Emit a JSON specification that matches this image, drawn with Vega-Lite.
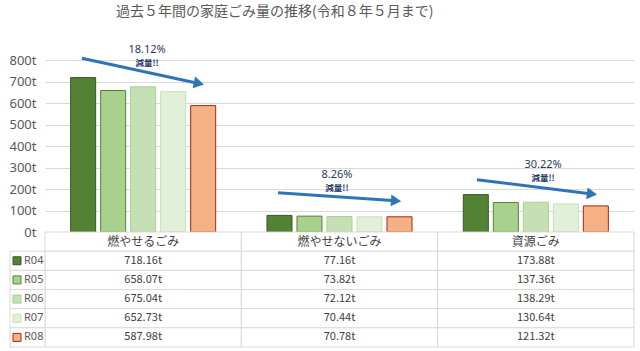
{
  "$schema": "https://vega.github.io/schema/vega-lite/v6.json",
  "background": "white",
  "padding": {"left": 8, "top": 5, "right": 5, "bottom": 4},
  "bounds": "flush",
  "title": {
    "text": "過去５年間の家庭ごみ量の推移(令和８年５月まで)",
    "anchor": "start",
    "dx": 107,
    "offset": 25,
    "fontSize": 14,
    "fontWeight": "normal",
    "color": "#595959",
    "font": "Noto Sans CJK JP"
  },
  "config": {
    "view": {"stroke": null},
    "font": "Noto Sans CJK JP",
    "axisY": {
      "tickCount": 8,
      "labelOverlap": false,
      "labelFont": "Noto Sans",
      "labelFontSize": 13,
      "labelColor": "#595959",
      "labelPadding": 9,
      "ticks": false,
      "domain": false,
      "gridColor": "#D9D9D9",
      "gridWidth": 1
    }
  },
  "datasets": {
    "amounts": [
      {"cat": "燃やせるごみ", "series": "R04", "value": 718.16},
      {"cat": "燃やせるごみ", "series": "R05", "value": 658.07},
      {"cat": "燃やせるごみ", "series": "R06", "value": 675.04},
      {"cat": "燃やせるごみ", "series": "R07", "value": 652.73},
      {"cat": "燃やせるごみ", "series": "R08", "value": 587.98},
      {"cat": "燃やせないごみ", "series": "R04", "value": 77.16},
      {"cat": "燃やせないごみ", "series": "R05", "value": 73.82},
      {"cat": "燃やせないごみ", "series": "R06", "value": 72.12},
      {"cat": "燃やせないごみ", "series": "R07", "value": 70.44},
      {"cat": "燃やせないごみ", "series": "R08", "value": 70.78},
      {"cat": "資源ごみ", "series": "R04", "value": 173.88},
      {"cat": "資源ごみ", "series": "R05", "value": 137.36},
      {"cat": "資源ごみ", "series": "R06", "value": 138.29},
      {"cat": "資源ごみ", "series": "R07", "value": 130.64},
      {"cat": "資源ごみ", "series": "R08", "value": 121.32}
    ],
    "headers": [
      {"cat": "燃やせるごみ", "series": "hdr"},
      {"cat": "燃やせないごみ", "series": "hdr"},
      {"cat": "資源ごみ", "series": "hdr"}
    ],
    "seriesList": [
      {"series": "R04"},
      {"series": "R05"},
      {"series": "R06"},
      {"series": "R07"},
      {"series": "R08"}
    ],
    "arrows": [
      {"x1": 0.188, "y1": 808, "x2": 0.784, "y2": 691, "ang": 12},
      {"x1": 1.187, "y1": 182, "x2": 1.788, "y2": 145, "ang": 4},
      {"x1": 2.2, "y1": 243, "x2": 2.786, "y2": 177, "ang": 7}
    ],
    "notes": [
      {"x": 0.52, "y": 845, "pct": "18.12%", "msg": "減量!!"},
      {"x": 1.487, "y": 266, "pct": "8.26%", "msg": "減量!!"},
      {"x": 2.537, "y": 313, "pct": "30.22%", "msg": "減量!!"}
    ]
  },
  "spacing": 0,
  "vconcat": [
    {
      "width": 589,
      "height": 172,
      "resolve": {"scale": {"x": "independent"}},
      "layer": [
        {
          "data": {"name": "amounts"},
          "mark": {"type": "bar", "strokeWidth": 1},
          "encoding": {
            "x": {
              "field": "cat", "type": "nominal",
              "scale": {"domain": ["燃やせるごみ", "燃やせないごみ", "資源ごみ"], "paddingInner": 0, "paddingOuter": 0},
              "axis": null
            },
            "xOffset": {
              "field": "series", "type": "nominal",
              "scale": {"domain": ["R04", "R05", "R06", "R07", "R08"], "paddingInner": 0.1667, "paddingOuter": 0.855}
            },
            "y": {
              "field": "value", "type": "quantitative", "title": null,
              "scale": {"domain": [0, 800], "nice": false},
              "axis": {"labelExpr": "datum.value + 't'", "grid": true, "tickCount": 8, "labelOverlap": false}
            },
            "fill": {
              "field": "series", "type": "nominal", "legend": null,
              "scale": {"domain": ["R04", "R05", "R06", "R07", "R08"], "range": ["#548235", "#A9D18E", "#C5E0B4", "#E2F0D9", "#F4B183"]}
            },
            "stroke": {
              "field": "series", "type": "nominal", "legend": null,
              "scale": {"domain": ["R04", "R05", "R06", "R07", "R08"], "range": ["#385723", "#548235", "#A9D18E", "#C5E0B4", "#B0260C"]}
            }
          }
        },
        {
          "layer": [
            {
              "data": {"name": "arrows"},
              "mark": {"type": "rule", "strokeWidth": 3, "color": "#2E75B6"},
              "encoding": {
                "x": {"field": "x1", "type": "quantitative", "scale": {"domain": [0, 3], "nice": false, "zero": false}, "axis": null},
                "x2": {"field": "x2"},
                "y": {"field": "y1", "type": "quantitative", "title": null, "axis": {"labelExpr": "datum.value + 't'", "grid": true, "tickCount": 8, "labelOverlap": false}},
                "y2": {"field": "y2"}
              }
            },
            {
              "data": {"name": "arrows"},
              "mark": {"type": "point", "shape": "triangle-right", "filled": true, "size": 140, "color": "#2E75B6", "opacity": 1},
              "encoding": {
                "x": {"field": "x2", "type": "quantitative", "axis": null},
                "y": {"field": "y2", "type": "quantitative", "title": null, "axis": {"labelExpr": "datum.value + 't'", "grid": true, "tickCount": 8, "labelOverlap": false}},
                "angle": {"field": "ang", "type": "quantitative", "scale": null}
              }
            },
            {
              "data": {"name": "notes"},
              "mark": {"type": "text", "fontSize": 11, "color": "#1F3864", "font": "Noto Sans", "baseline": "middle"},
              "encoding": {
                "x": {"field": "x", "type": "quantitative", "axis": null},
                "y": {"field": "y", "type": "quantitative", "title": null, "axis": {"labelExpr": "datum.value + 't'", "grid": true, "tickCount": 8, "labelOverlap": false}},
                "text": {"field": "pct"}
              }
            },
            {
              "data": {"name": "notes"},
              "mark": {"type": "text", "fontSize": 8.5, "fontWeight": "bold", "color": "#1F3864", "baseline": "middle", "dy": 13},
              "encoding": {
                "x": {"field": "x", "type": "quantitative", "axis": null},
                "y": {"field": "y", "type": "quantitative", "title": null, "axis": {"labelExpr": "datum.value + 't'", "grid": true, "tickCount": 8, "labelOverlap": false}},
                "text": {"field": "msg"}
              }
            }
          ]
        }
      ]
    },
    {
      "width": 589,
      "height": 115,
      "resolve": {"scale": {"x": "independent"}},
      "layer": [
        {
          "layer": [
            {
              "data": {"name": "amounts"},
              "mark": {"type": "rect", "fill": "white", "stroke": "#D9D9D9", "strokeWidth": 1},
              "encoding": {
                "x": {
                  "field": "cat", "type": "nominal",
                  "scale": {"domain": ["燃やせるごみ", "燃やせないごみ", "資源ごみ"], "paddingInner": 0, "paddingOuter": 0},
                  "axis": null
                },
                "y": {
                  "field": "series", "type": "nominal",
                  "scale": {"domain": ["hdr", "R04", "R05", "R06", "R07", "R08"], "paddingInner": 0, "paddingOuter": 0},
                  "axis": null
                }
              }
            },
            {
              "data": {"name": "headers"},
              "mark": {"type": "rect", "fill": "white", "stroke": "#D9D9D9", "strokeWidth": 1},
              "encoding": {
                "x": {"field": "cat", "type": "nominal"},
                "y": {"field": "series", "type": "nominal"}
              }
            },
            {
              "data": {"name": "headers"},
              "mark": {"type": "text", "fontSize": 12, "color": "#404040"},
              "encoding": {
                "x": {"field": "cat", "type": "nominal"},
                "y": {"field": "series", "type": "nominal"},
                "text": {"field": "cat"}
              }
            },
            {
              "data": {"name": "amounts"},
              "transform": [{"calculate": "format(datum.value, '.2f') + 't'", "as": "label"}],
              "mark": {"type": "text", "fontSize": 11, "color": "#404040"},
              "encoding": {
                "x": {"field": "cat", "type": "nominal"},
                "y": {"field": "series", "type": "nominal"},
                "text": {"field": "label"}
              }
            }
          ]
        },
        {
          "layer": [
            {
              "data": {"name": "seriesList"},
              "mark": {"type": "rect", "fill": "white", "stroke": "#D9D9D9", "strokeWidth": 1},
              "encoding": {
                "x": {"datum": 0, "type": "quantitative", "scale": {"domain": [0, 1], "range": [-35, 0], "nice": false, "zero": false}, "axis": null},
                "x2": {"datum": 1},
                "y": {"field": "series", "type": "nominal"}
              }
            },
            {
              "data": {"name": "seriesList"},
              "mark": {"type": "point", "shape": "square", "filled": true, "size": 64, "opacity": 1, "strokeWidth": 1},
              "encoding": {
                "x": {"datum": 0.2, "type": "quantitative"},
                "y": {"field": "series", "type": "nominal"},
                "fill": {
                  "field": "series", "type": "nominal", "legend": null,
                  "scale": {"domain": ["R04", "R05", "R06", "R07", "R08"], "range": ["#548235", "#A9D18E", "#C5E0B4", "#E2F0D9", "#F4B183"]}
                },
                "stroke": {
                  "field": "series", "type": "nominal", "legend": null,
                  "scale": {"domain": ["R04", "R05", "R06", "R07", "R08"], "range": ["#385723", "#548235", "#A9D18E", "#C5E0B4", "#B0260C"]}
                }
              }
            },
            {
              "data": {"name": "seriesList"},
              "mark": {"type": "text", "fontSize": 11, "color": "#595959", "align": "left", "font": "Noto Sans"},
              "encoding": {
                "x": {"datum": 0.4, "type": "quantitative"},
                "y": {"field": "series", "type": "nominal"},
                "text": {"field": "series"}
              }
            }
          ]
        }
      ]
    }
  ]
}
